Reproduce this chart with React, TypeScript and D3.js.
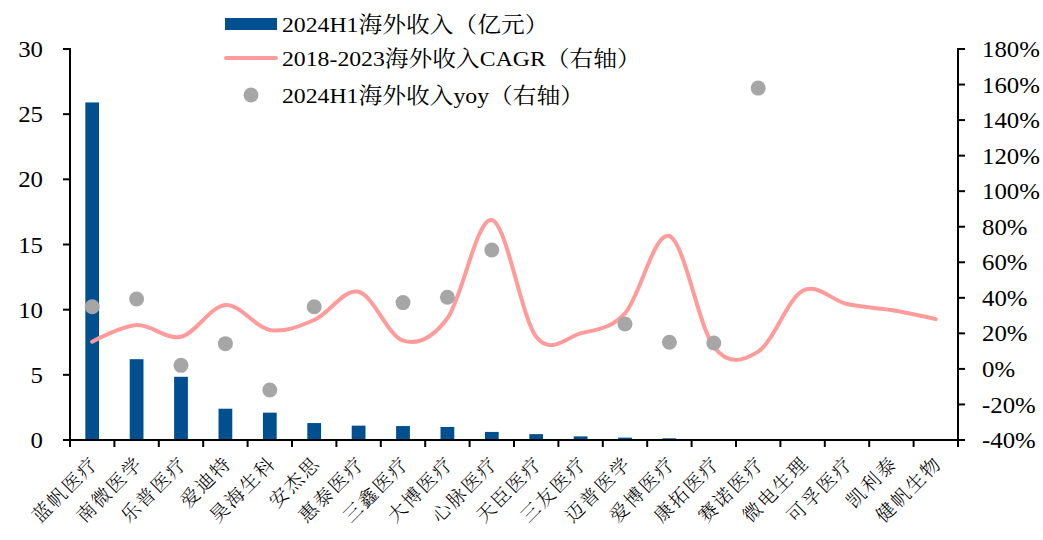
import React from "react";
import * as d3 from "d3";

const categories = ["蓝帆医疗","南微医学","乐普医疗","爱迪特","昊海生科","安杰思","惠泰医疗","三鑫医疗","大博医疗","心脉医疗","天臣医疗","三友医疗","迈普医学","爱博医疗","康拓医疗","赛诺医疗","微电生理","可孚医疗","凯利泰","健帆生物"];
const revenue = [25.9,6.2,4.85,2.4,2.1,1.3,1.1,1.07,1.0,0.62,0.45,0.28,0.18,0.13,0.07,0,0,0,0,0];
const cagr = [15.3,24.7,18.1,36,21.9,27.5,43.4,15.9,28.5,83.8,18.1,20,31.3,74.8,12.5,9.7,44,36.5,33.1,28];
const yoy: (number | null)[] = [35,39.3,2,14.2,-11.9,35,null,37.3,40.3,66.9,null,null,25.3,15,14.6,158,null,null,null,null];
const leftTicks = [0,5,10,15,20,25,30];
const rightTicks = [-40,-20,0,20,40,60,80,100,120,140,160,180];
const legendLabels = ["2024H1海外收入（亿元）","2018-2023海外收入CAGR（右轴）","2024H1海外收入yoy（右轴）"];

const W = 1043, H = 540;
const L = 70, R = 958, T = 49, B = 440;
const FONT = "'Liberation Serif','Times New Roman','Noto Serif CJK SC','Noto Sans CJK SC',serif";
const CJK = "'Noto Serif CJK SC','Noto Sans CJK SC',sans-serif";
const BLUE = "#00508F";
const PINK = "#FF9B9B";
const GRAY = "#A6A6A6";
const SX = 1.08;

export default function App() {
  const x = d3.scaleBand<string>().domain(categories).range([L, R]).paddingInner(0).paddingOuter(0);
  const bw = x.bandwidth();
  const yL = d3.scaleLinear().domain([0, 30]).range([B, T]);
  const yR = d3.scaleLinear().domain([-40, 180]).range([B, T]);
  const cx = (c: string) => (x(c) as number) + bw / 2;
  const line = d3.line<number>()
    .x((_, i) => cx(categories[i]))
    .y((d) => yR(d))
    .curve(d3.curveCardinal.tension(0));
  const barW = bw * 0.31;
  return (
    <svg width={W} height={H} style={{ position: "absolute", left: 0, top: 0, background: "#fff" }} fontFamily={FONT}>
      {/* bars */}
      {categories.map((c, i) => revenue[i] > 0 ? (
        <rect key={c} x={cx(c) - barW / 2} y={yL(revenue[i])} width={barW} height={B - yL(revenue[i])} fill={BLUE} />
      ) : null)}
      {/* line */}
      <path d={line(cagr) || ""} fill="none" stroke={PINK} strokeWidth={4} strokeLinecap="round" />
      {/* dots */}
      {categories.map((c, i) => yoy[i] !== null ? (
        <circle key={c} cx={cx(c)} cy={yR(yoy[i] as number)} r={7.5} fill={GRAY} />
      ) : null)}
      {/* left axis */}
      <line x1={L} x2={L} y1={T - 1} y2={B} stroke="#000" strokeWidth={2} />
      {leftTicks.map((t) => (
        <g key={t}>
          <line x1={L - 7} x2={L} y1={yL(t)} y2={yL(t)} stroke="#000" strokeWidth={2} />
          <text transform={`translate(${L - 27},${yL(t)}) scale(${SX},1)`} dy="0.35em" textAnchor="end" fontSize={23}>{t}</text>
        </g>
      ))}
      {/* right axis */}
      <line x1={R} x2={R} y1={T - 1} y2={B} stroke="#000" strokeWidth={2} />
      {rightTicks.map((t) => (
        <g key={t}>
          <line x1={R} x2={R + 7} y1={yR(t)} y2={yR(t)} stroke="#000" strokeWidth={2} />
          <text transform={`translate(${R + 24},${yR(t)}) scale(${SX},1)`} dy="0.35em" textAnchor="start" fontSize={23}>{t}%</text>
        </g>
      ))}
      {/* x axis */}
      <line x1={L - 4} x2={R + 1} y1={B} y2={B} stroke="#000" strokeWidth={2} />
      {categories.map((c) => (
        <line key={c} x1={x(c) as number} x2={x(c) as number} y1={B} y2={B + 7} stroke="#000" strokeWidth={2} />
      ))}
      <line x1={R} x2={R} y1={B} y2={B + 7} stroke="#000" strokeWidth={2} />
      {categories.map((c) => (
        <text key={c} transform={`translate(${cx(c) - 2},${B + 15}) rotate(-45)`} textAnchor="end" dy="0.7em" fontSize={19} letterSpacing={2} fontFamily={CJK} fontWeight={300}>{c}</text>
      ))}
      {/* legend */}
      <rect x={225} y={18} width={52} height={12} fill={BLUE} />
      <text transform={`translate(282,24) scale(${SX},1)`} dy="0.35em" fontSize={22}>{legendLabels[0]}</text>
      <line x1={226} x2={276} y1={58} y2={58} stroke={PINK} strokeWidth={4} strokeLinecap="round" />
      <text transform={`translate(282,58) scale(${SX},1)`} dy="0.35em" fontSize={22}>{legendLabels[1]}</text>
      <circle cx={251} cy={95} r={7.5} fill={GRAY} />
      <text transform={`translate(282,95) scale(${SX},1)`} dy="0.35em" fontSize={22}>{legendLabels[2]}</text>
    </svg>
  );
}
